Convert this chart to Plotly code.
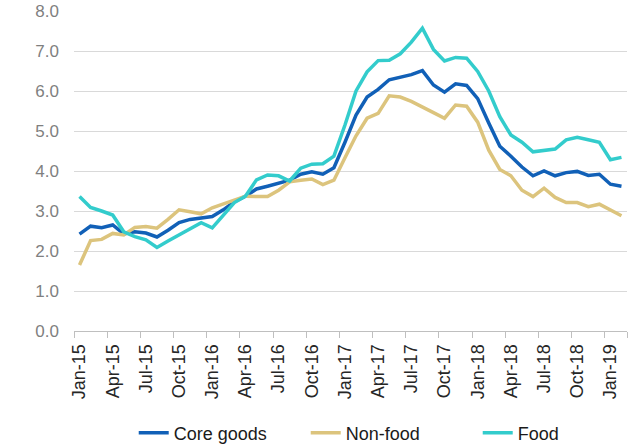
import plotly.graph_objects as go

# monthly, Jan-15 .. Feb-19
meses = ['Jan', 'Feb', 'Mar', 'Apr', 'May', 'Jun', 'Jul', 'Aug', 'Sep', 'Oct', 'Nov', 'Dec']
months = [f"{m}-{a}" for a in range(15, 20) for m in meses][:50]

core_goods = [2.42, 2.62, 2.58, 2.65, 2.43, 2.48, 2.45, 2.35, 2.52, 2.71,
              2.79, 2.82, 2.86, 3.03, 3.23, 3.37, 3.55, 3.62, 3.69, 3.77,
              3.92, 3.98, 3.92, 4.08, 4.72, 5.40, 5.85, 6.04, 6.28, 6.35,
              6.41, 6.51, 6.15, 5.97, 6.18, 6.14, 5.81, 5.20, 4.62, 4.37,
              4.10, 3.88, 4.00, 3.88, 3.96, 3.99, 3.89, 3.92, 3.67, 3.62]

non_food = [1.65, 2.26, 2.29, 2.44, 2.40, 2.59, 2.61, 2.57, 2.79, 3.03,
            2.98, 2.93, 3.08, 3.17, 3.28, 3.37, 3.36, 3.36, 3.52, 3.73,
            3.77, 3.80, 3.66, 3.77, 4.33, 4.88, 5.32, 5.44, 5.88, 5.85,
            5.74, 5.61, 5.46, 5.32, 5.65, 5.62, 5.22, 4.52, 4.04, 3.88,
            3.52, 3.36, 3.57, 3.34, 3.21, 3.21, 3.11, 3.17, 3.03, 2.88]

food = [3.36, 3.09, 3.00, 2.90, 2.48, 2.36, 2.28, 2.09, 2.25, 2.40,
        2.57, 2.71, 2.58, 2.90, 3.21, 3.37, 3.78, 3.90, 3.88, 3.75,
        4.07, 4.17, 4.18, 4.37, 5.15, 6.00, 6.48, 6.76, 6.77, 6.93,
        7.22, 7.57, 7.04, 6.75, 6.84, 6.82, 6.49, 6.00, 5.36, 4.90,
        4.72, 4.48, 4.51, 4.55, 4.78, 4.84, 4.78, 4.72, 4.28, 4.34]

series = [
    ('Core goods', core_goods, '#1160b7'),
    ('Non-food', non_food, '#dcc47d'),
    ('Food', food, '#33cccc'),
]

x = list(range(len(months)))
tick_pos = x[::3]
tick_txt = months[::3]
bordas = [i - 0.5 for i in x[::3]] + [len(months) - 0.5]

fig = go.Figure()
for nome, vals, cor in series:
    fig.add_trace(go.Scatter(x=x, y=vals, name=nome, mode='lines',
                             line=dict(color=cor, width=3.5)))

fig.update_layout(
    width=642, height=445,
    margin=dict(l=74, r=15, t=11, b=114, autoexpand=False),
    paper_bgcolor='white', plot_bgcolor='white',
    font=dict(family='Liberation Sans, Arial, sans-serif', size=18, color='#262626'),
    showlegend=True,
    legend=dict(orientation='h', x=0.108, xanchor='left', y=-0.319, yanchor='middle',
                font=dict(size=18, color='#1a1a1a'), entrywidth=127,
                bgcolor='rgba(0,0,0,0)'),
)
fig.update_xaxes(
    range=[-0.5, len(months) - 0.5], automargin=False,
    tickmode='array', tickvals=tick_pos, ticktext=tick_txt, tickangle=-90,
    ticks='', showgrid=False, zeroline=False, ticklabelstandoff=5,
    showline=True, linecolor='#bfbfbf', linewidth=1,
    tickfont=dict(size=18, color='#262626'),
    minor=dict(tickmode='array', tickvals=bordas, ticks='outside', ticklen=6,
               tickcolor='#bfbfbf', tickwidth=1, showgrid=False),
)
fig.update_yaxes(
    range=[0, 8], dtick=1, tickformat='.1f', automargin=False,
    showgrid=True, gridcolor='#d9d9d9', gridwidth=1.3, zeroline=False,
    showline=False, ticks='', ticklabelstandoff=14,
    tickfont=dict(size=17, color='#7f7f7f'),
)

# tira a margem padrao do body para a figura ficar no canto
fig.write_html("out.html", config={'displayModeBar': False},
               post_script="document.body.style.margin='0';")
